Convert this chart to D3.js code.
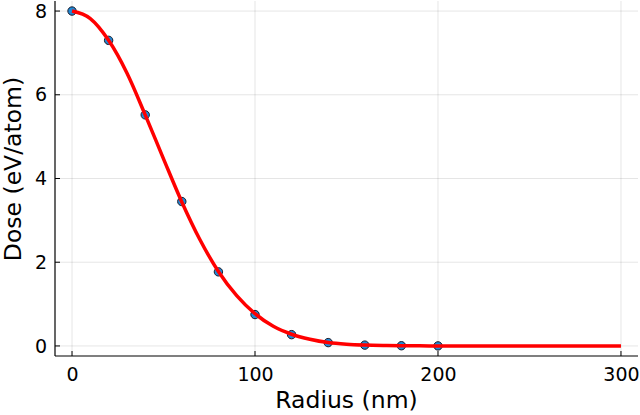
<!DOCTYPE html>
<html><head><meta charset="utf-8">
<script src="https://cdn.jsdelivr.net/npm/d3@7"></script>
<style>body{margin:0;background:#fff}svg{display:block}text{font-family:"DejaVu Sans",sans-serif;fill:#000}</style>
</head><body>
<svg id="c" width="640" height="415"></svg>
<script>
const pointRadius = [0,20,40,60,80,100,120,140,160,180,200];
const pointDose = [8.0,7.3,5.52,3.45,1.77,0.75,0.27,0.08,0.02,0.005,0.001];
const curveRadius = [0,10,20,30,40,50,60,70,80,90,100,110,120,130,140,150,160,170,180,190,200,250,300];
const curveDose = [8.0,7.82,7.3,6.52,5.52,4.47,3.44,2.53,1.78,1.2,0.77,0.47,0.28,0.16,0.08,0.04,0.02,0.01,0.005,0.002,0.001,0,0];
const xTicks = [0,100,200,300];
const yTicks = [0,2,4,6,8];

const svg = d3.select("#c");
const L=55, R=638, T=1, B=356;
const x = d3.scaleLinear().domain([-9.3,309.3]).range([L,R]);
const y = d3.scaleLinear().domain([-0.24,8.24]).range([B,T]);

const g = svg.append("g");
g.selectAll(".gx").data(xTicks).join("line")
 .attr("x1",d=>x(d)).attr("x2",d=>x(d)).attr("y1",T).attr("y2",B)
 .attr("stroke","#000").attr("stroke-opacity",0.1).attr("stroke-width",1);
g.selectAll(".gy").data(yTicks).join("line")
 .attr("y1",d=>y(d)).attr("y2",d=>y(d)).attr("x1",L).attr("x2",R)
 .attr("stroke","#000").attr("stroke-opacity",0.1).attr("stroke-width",1);

const xa = svg.append("g").attr("transform",`translate(0,${B})`)
 .call(d3.axisBottom(x).tickValues(xTicks).tickSize(0).tickPadding(12).tickFormat(d3.format("d")));
xa.select(".domain").remove();
xa.selectAll("text").attr("font-size",19).attr("font-family","DejaVu Sans");
svg.append("g").selectAll("line").data(xTicks).join("line")
 .attr("x1",d=>x(d)).attr("x2",d=>x(d)).attr("y1",B).attr("y2",B-5).attr("stroke","#000").attr("stroke-width",1);
const ya = svg.append("g").attr("transform",`translate(${L},0)`)
 .call(d3.axisLeft(y).tickValues(yTicks).tickSize(0).tickPadding(8).tickFormat(d3.format("d")));
ya.select(".domain").remove();
ya.selectAll("text").attr("font-size",19).attr("font-family","DejaVu Sans");
svg.append("g").selectAll("line").data(yTicks).join("line")
 .attr("y1",d=>y(d)).attr("y2",d=>y(d)).attr("x1",L).attr("x2",L+5).attr("stroke","#000").attr("stroke-width",1);
svg.append("line").attr("x1",L).attr("x2",R).attr("y1",B).attr("y2",B).attr("stroke","#000").attr("stroke-width",1.2);
svg.append("line").attr("x1",L).attr("x2",L).attr("y1",T).attr("y2",B).attr("stroke","#000").attr("stroke-width",1.2);

svg.append("g").selectAll("circle").data(pointRadius).join("circle")
 .attr("cx",(d)=>x(d)).attr("cy",(d,i)=>y(pointDose[i])).attr("r",4.2)
 .attr("fill","#1f8ad6").attr("stroke","#1a1a2a").attr("stroke-width",1);

const line = d3.line().x(d=>x(d[0])).y(d=>y(d[1])).curve(d3.curveMonotoneX);
svg.append("path").datum(curveRadius.map((r,i)=>[r,curveDose[i]]))
 .attr("d",line).attr("fill","none").attr("stroke","#f00").attr("stroke-width",3.5);

svg.append("text").attr("x",(L+R)/2).attr("y",408).attr("text-anchor","middle").attr("font-size",23.5).text("Radius (nm)");
svg.append("text").attr("transform",`translate(21,169) rotate(-90)`).attr("text-anchor","middle").attr("font-size",23.5).text("Dose (eV/atom)");
</script>
</body></html>
